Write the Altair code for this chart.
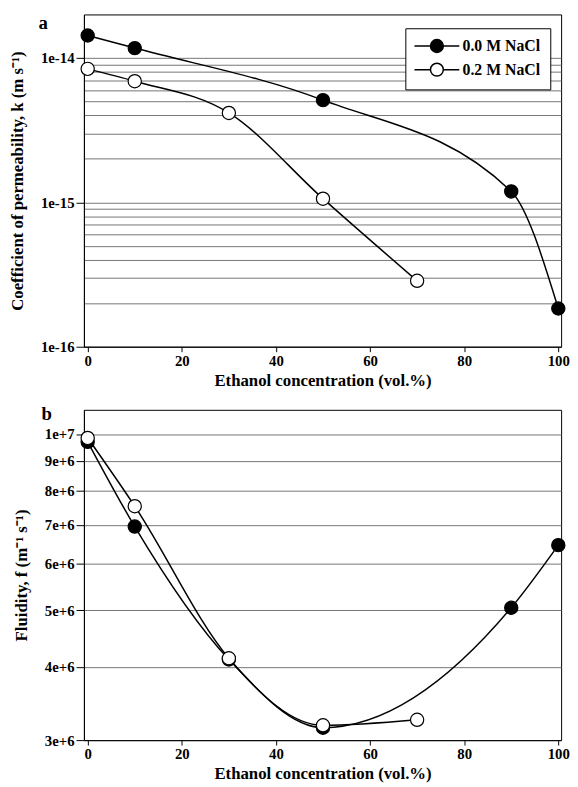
import altair as alt
import pandas as pd

series = ["0.0 M NaCl", "0.2 M NaCl"]

# Panel a: coefficient of permeability k (m s-1)
a_x_00 = [0, 10, 50, 90, 100]
a_k_00 = [1.43e-14, 1.17e-14, 5.1e-15, 1.19e-15, 1.84e-16]
a_x_02 = [0, 10, 30, 50, 70]
a_k_02 = [8.4e-15, 6.9e-15, 4.16e-15, 1.06e-15, 2.86e-16]

# Panel b: fluidity f (m-1 s-1)
b_x_00 = [0, 10, 30, 50, 90, 100]
b_f_00 = [9.7e6, 6.95e6, 4.12e6, 3.15e6, 5.05e6, 6.46e6]
b_x_02 = [0, 10, 30, 50, 70]
b_f_02 = [9.85e6, 7.53e6, 4.14e6, 3.18e6, 3.25e6]

x_ticks = [0, 20, 40, 60, 80, 100]
a_y_ticks = [m * 10.0 ** e for e in (-16, -15) for m in range(1, 10)] + [1e-14]
b_y_ticks = [3e6, 4e6, 5e6, 6e6, 7e6, 8e6, 9e6, 1e7]

FONT = "Liberation Serif"
SYM = "M-3.5,0H-1M1,0H3.5M1,0A1,1 0 1,1 -1,0A1,1 0 1,1 1,0Z"
IS_DEC = "abs(log(datum.value)/LN10 - round(log(datum.value)/LN10)) < 0.001"


def frame(xs0, ys0, xs2, ys2):
    d0 = pd.DataFrame({"x": xs0, "y": ys0, "series": series[0]})
    d2 = pd.DataFrame({"x": xs2, "y": ys2, "series": series[1]})
    return pd.concat([d0, d2], ignore_index=True)


def panel(df, ydom, yticks, ytitle, letter, lx, ly, tx, ty, minor, h):
    x = alt.X("x:Q", scale=alt.Scale(domain=[-0.8, 100.6], nice=False, zero=False),
              axis=alt.Axis(values=x_ticks, title="Ethanol concentration (vol.%)",
                            grid=False, tickSize=5, labelPadding=2, titlePadding=4))
    yaxis = dict(values=yticks, title=ytitle, grid=True, tickSize=8, labelPadding=2,
                 titlePadding=14, format=".0e")
    if minor:
        yaxis["labelExpr"] = IS_DEC + " ? format(datum.value, '.0e') : ''"
        yaxis["tickOpacity"] = {"condition": {"test": IS_DEC, "value": 1}, "value": 0}
    y = alt.Y("y:Q", scale=alt.Scale(type="log", domain=ydom, nice=False),
              axis=alt.Axis(**yaxis))
    lines = alt.Chart(df).mark_line(interpolate="monotone", color="black", strokeWidth=1.5).encode(
        x=x, y=y, detail="series:N")
    pts = alt.Chart(df).mark_circle(size=180, stroke="black", strokeWidth=1.2, opacity=1).encode(
        x=x, y=y,
        fill=alt.Fill("series:N", scale=alt.Scale(domain=series, range=["black", "white"]),
                      legend=alt.Legend(title=None, orient="none", legendX=lx, legendY=ly,
                                        symbolType=SYM, symbolSize=169,
                                        symbolStrokeColor="black", symbolStrokeWidth=1.5,
                                        labelFont=FONT, labelFontSize=16, labelFontWeight="bold",
                                        labelColor="black", padding=10, symbolOffset=14,
                                        labelOffset=18, rowPadding=4, strokeColor="black",
                                        fillColor="white")))
    lab = alt.Chart(pd.DataFrame({"t": [letter]})).mark_text(
        font=FONT, fontSize=19, fontWeight="bold", align="left", baseline="alphabetic",
        color="black").encode(text="t:N", x=alt.value(tx), y=alt.value(ty))
    return alt.layer(lines, pts, lab).properties(width=484, height=h)


pa = panel(frame(a_x_00, a_k_00, a_x_02, a_k_02), [1e-16, 2e-14], a_y_ticks,
           "Coefficient of permeability, k (m s\u207b\u00b9)", "a", 326, 14, -46, 15, True, 337)
pb = panel(frame(b_x_00, b_f_00, b_x_02, b_f_02), [3e6, 1.1e7], b_y_ticks,
           "Fluidity, f (m\u207b\u00b9 s\u207b\u00b9)", "b", 201, 6, -43, 10, False, 335)

chart = alt.vconcat(pa, pb, spacing=15).properties(padding=0).configure_view(
    stroke="black", strokeWidth=1
).configure_axis(
    labelFont=FONT, labelFontSize=15, labelFontWeight="bold", labelColor="black",
    titleFont=FONT, titleFontSize=17, titleFontWeight="bold", titleColor="black",
    domainColor="black", tickColor="black", gridColor="#666", gridWidth=0.9
)

chart.save("out.html", embed_options={"renderer": "svg", "actions": False})
